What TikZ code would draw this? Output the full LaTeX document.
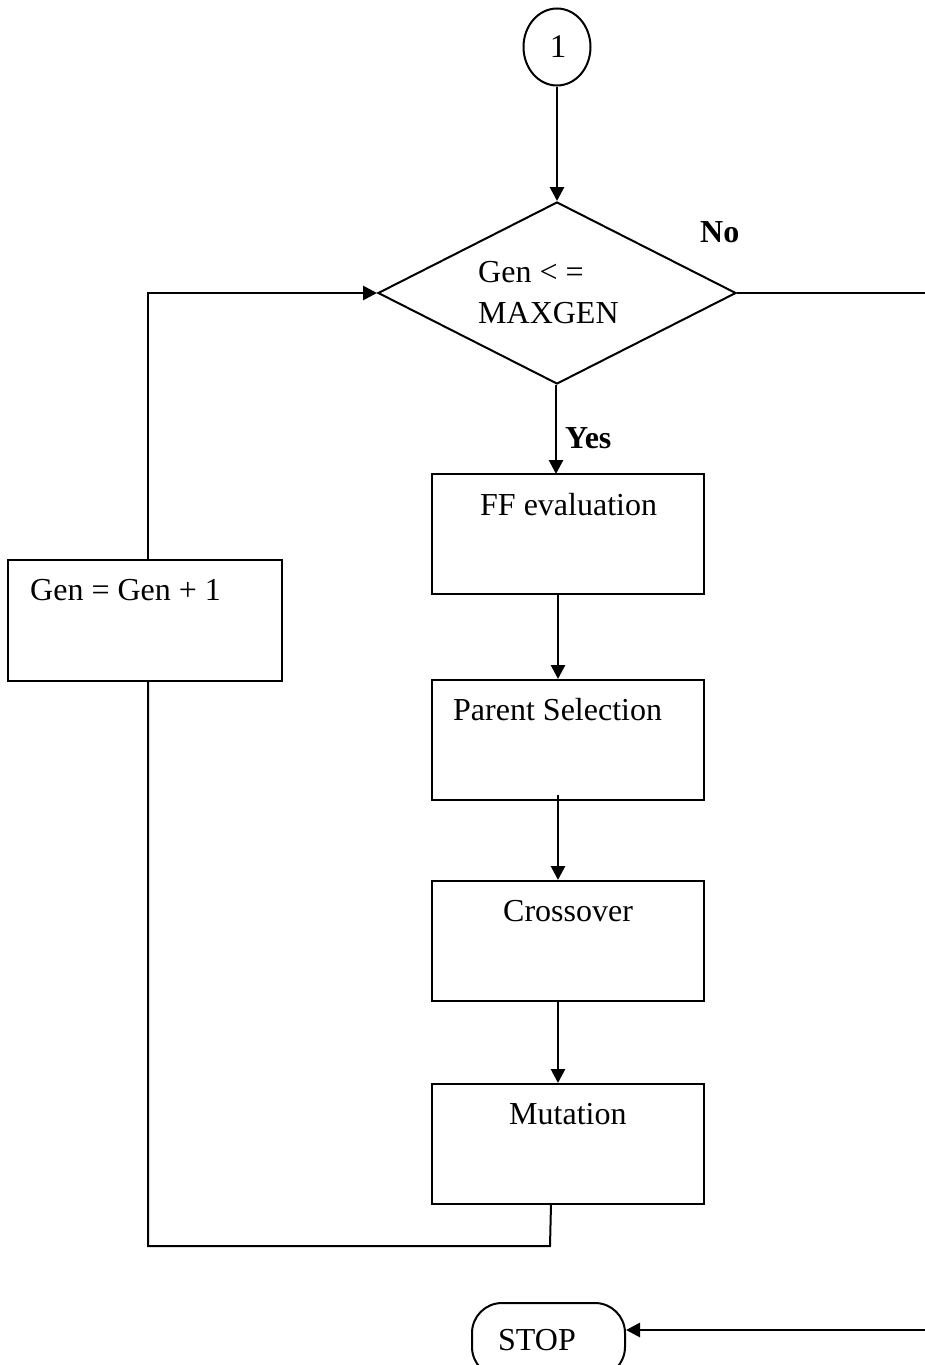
\documentclass[tikz,border=0pt]{standalone}
\usepackage{fontspec}
\setmainfont{Liberation Serif}
\usetikzlibrary{arrows.meta,shapes.geometric}
\begin{document}
\begin{tikzpicture}[x=1pt,y=-1pt,
  box/.style={draw,line width=2pt,rectangle,minimum width=272pt,minimum height=120pt,inner sep=0pt},
  txt/.style={anchor=base west,inner sep=0pt,font=\fontsize{32}{36}\selectfont},
  btxt/.style={anchor=base west,inner sep=0pt,font=\fontsize{32}{36}\selectfont\bfseries},
  conn/.style={line width=2pt},
  arr/.style={line width=2.8pt,-{Triangle[length=14pt,width=14pt]}}]
\useasboundingbox (0,0) rectangle (925,1365);
% start connector
\node[draw,ellipse,line width=2pt,minimum width=67pt,minimum height=77pt,inner sep=0pt] (one) at (557,47) {};
\node[anchor=base,inner sep=0pt,font=\fontsize{33}{36}\selectfont] (onet) at (558,57) {1};
% decision
\node[draw,diamond,line width=2pt,minimum width=358pt,minimum height=182pt,inner sep=0pt] (dec) at (557,293) {};
\node[txt] (dect1) at (478,282) {Gen < =};
\node[txt] (dect2) at (478,323) {MAXGEN};
\node[btxt] (no) at (700,242) {No};
\node[btxt] (yes) at (565,448) {Yes};
% process boxes
\node[box] (ff) at (568,534) {};
\node[txt] (fft) at (480,515) {FF evaluation};
\node[box] (ps) at (568,740) {};
\node[txt] (pst) at (453,720) {Parent Selection};
\node[box] (co) at (568,941) {};
\node[txt] (cot) at (503,921) {Crossover};
\node[box] (mu) at (568,1144) {};
\node[txt] (mut) at (509,1124) {Mutation};
\node[box,minimum width=274pt,minimum height=121pt] (gen) at (145,620) {};
\node[txt] (gent) at (30,600) {Gen = Gen + 1};
% stop
\node[draw,rectangle,rounded corners=30pt,line width=2pt,minimum width=153pt,minimum height=74pt,inner sep=0pt] (stop) at (548.5,1340) {};
\node[txt] (stopt) at (498,1350) {STOP};
% free ends
\coordinate (re) at (925,293);
\coordinate (se) at (925,1330);
\coordinate (lb) at (550,1246);
% connectors
\draw[arr] (one.south) -- (dec.north);
\draw[arr] (556,385) -- (556,474);
\draw[arr] (558,594) -- (ps.north -| 558,0);
\draw[arr] (558,795) -- (co.north -| 558,0);
\draw[arr] (558,1001) -- (mu.north -| 558,0);
\draw[conn] (dec.east) -- (re);
\draw[arr] (se) -- (stop.east |- se);
\draw[conn] (551,1204) -- (lb) -- (148,1246) -- (gen.south -| 148,0);
\draw[conn] (gen.north -| 148,0) -- (148,293);
\draw[arr] (147,293) -- (dec.west);
\end{tikzpicture}
\end{document}
